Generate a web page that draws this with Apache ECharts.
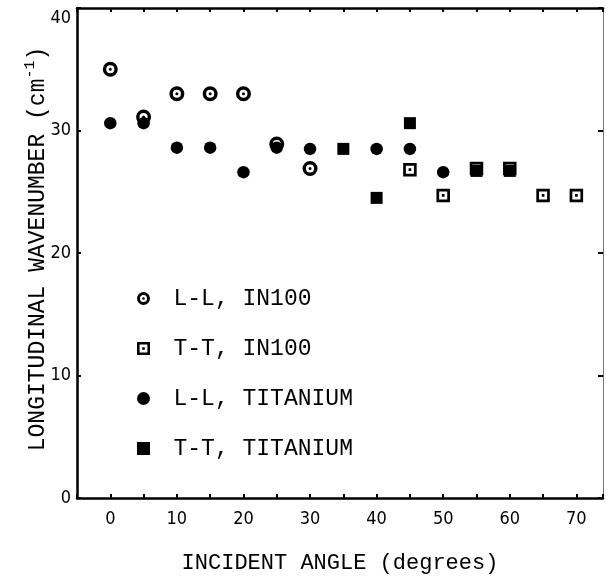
<!DOCTYPE html>
<html>
<head>
<meta charset="utf-8">
<script src="https://cdn.jsdelivr.net/npm/echarts@6/dist/echarts.min.js"></script>
<style>
  html, body { margin: 0; background: #fff; }
  #chart { width: 606px; height: 580px; }
</style>
</head>
<body>
<div id="chart"></div>
<script>
// readings (angle in degrees, wavenumber in cm^-1)
const angleLLIn100 = [0, 5, 10, 15, 20, 25, 30];
const waveLLIn100 = [35.0, 31.1, 33.0, 33.0, 33.0, 28.9, 26.9];

const angleTTIn100 = [45, 50, 55, 60, 65, 70];
const waveTTIn100 = [26.8, 24.7, 26.9, 26.9, 24.7, 24.7];

const angleLLTi = [0, 5, 10, 15, 20, 25, 30, 40, 45, 50];
const waveLLTi = [30.6, 30.6, 28.6, 28.6, 26.6, 28.6, 28.5, 28.5, 28.5, 26.6];

const angleTTTi = [35, 40, 45, 55, 60];
const waveTTTi = [28.5, 24.5, 30.6, 26.7, 26.7];

const seriesNames = ['L-L, IN100', 'T-T, IN100', 'L-L, TITANIUM', 'T-T, TITANIUM'];
const yTicks = [0, 10, 20, 30, 40];

const mono = "'Liberation Mono', 'DejaVu Sans Mono', monospace";
const digits = "'Liberation Sans Narrow', 'DejaVu Sans Condensed', 'Liberation Sans', sans-serif";

// symbols: ring with dot, square with dot, disc, block
const ringDot = 'path://M50 0A50 50 0 1 1 50 100A50 50 0 1 1 50 0Z' +
  'M50 23A27 27 0 1 0 50 77A27 27 0 1 0 50 23Z' +
  'M50 40A10 10 0 1 1 50 60A10 10 0 1 1 50 40Z';
const boxDot = 'path://M0 0L100 0L100 100L0 100Z' +
  'M20 20L20 80L80 80L80 20Z' +
  'M40 40L60 40L60 60L40 60Z';
const disc = 'path://M50 0A50 50 0 1 1 50 100A50 50 0 1 1 50 0Z';
const block = 'path://M0 0L100 0L100 100L0 100Z';

function pairs(xs, ys) {
  return xs.map((x, i) => [x, ys[i]]);
}

let chart = echarts.init(document.getElementById('chart'));

function scatter(name, symbol, size, xs, ys) {
  return {
    name: name,
    type: 'scatter',
    symbol: symbol,
    symbolSize: size,
    itemStyle: { color: '#000', opacity: 1 },
    emphasis: { disabled: true },
    data: pairs(xs, ys)
  };
}

const tickStyle = { show: true, inside: true, length: 4, lineStyle: { color: '#000', width: 2 } };

chart.setOption({
  animation: false,
  backgroundColor: '#fff',
  grid: { left: 77, right: 1.7, top: 8, bottom: 82 },
  legend: {
    data: seriesNames,
    orient: 'vertical',
    left: 137,
    top: 287,
    padding: 0,
    itemWidth: 40,
    itemHeight: 13,
    itemGap: 27,
    textStyle: { fontFamily: mono, fontSize: 23, color: '#000', padding: [0, 0, 0, 5] }
  },
  xAxis: [
    {
      type: 'value',
      min: -5,
      max: 74,
      interval: 5,
      splitLine: { show: false },
      axisLine: { onZero: false, lineStyle: { color: '#000', width: 2.5 } },
      axisTick: tickStyle,
      axisLabel: {
        margin: 12,
        fontFamily: digits,
        fontSize: 18,
        color: '#000',
        formatter: v => (v >= 0 && v % 10 === 0 ? String(v) : '')
      },
      name: 'INCIDENT ANGLE (degrees)',
      nameLocation: 'middle',
      nameGap: 54,
      nameMoveOverlap: false,
      nameTextStyle: { fontFamily: mono, fontSize: 22, color: '#000' }
    },
    {
      type: 'value',
      position: 'top',
      min: -5,
      max: 74,
      interval: 5,
      splitLine: { show: false },
      axisLine: { onZero: false, lineStyle: { color: '#000', width: 2.5 } },
      axisTick: tickStyle,
      axisLabel: { show: false }
    }
  ],
  yAxis: [
    {
      type: 'value',
      min: 0,
      max: 40,
      interval: 10,
      splitLine: { show: false },
      axisLine: { onZero: false, lineStyle: { color: '#000', width: 2.5 } },
      axisTick: tickStyle,
      axisLabel: {
        margin: 6,
        fontFamily: digits,
        fontSize: 18,
        color: '#000',
        formatter: v => (yTicks.indexOf(v) < 0 ? '' : v === 40 ? '{top|40}' : String(v)),
        rich: { top: { fontFamily: digits, fontSize: 18, color: '#000', padding: [20, 0, 0, 0] } }
      },
      name: '{t|LONGITUDINAL WAVENUMBER (cm}{s|-1}{t|)}',
      nameLocation: 'middle',
      nameGap: 25,
      nameMoveOverlap: false,
      nameTextStyle: {
        fontFamily: mono,
        fontSize: 23,
        color: '#000',
        padding: [0, 0, 0, 8],
        rich: {
          t: { fontFamily: mono, fontSize: 23, color: '#000' },
          s: { fontFamily: mono, fontSize: 15, color: '#000', padding: [0, 0, 14, 0] }
        }
      }
    },
    {
      type: 'value',
      position: 'right',
      min: 0,
      max: 40,
      interval: 10,
      splitLine: { show: false },
      axisLine: { onZero: false, lineStyle: { color: '#777', width: 1 } },
      axisTick: { show: true, inside: true, length: 5, lineStyle: { color: '#000', width: 2 } },
      axisLabel: { show: false }
    }
  ],
  series: [
    scatter(seriesNames[0], ringDot, 15, angleLLIn100, waveLLIn100),
    scatter(seriesNames[1], boxDot, 13.5, angleTTIn100, waveTTIn100),
    scatter(seriesNames[2], disc, 12.5, angleLLTi, waveLLTi),
    scatter(seriesNames[3], block, 12, angleTTTi, waveTTTi)
  ]
});

window.onresize = function() {
  chart.resize();
};
</script>
</body>
</html>
